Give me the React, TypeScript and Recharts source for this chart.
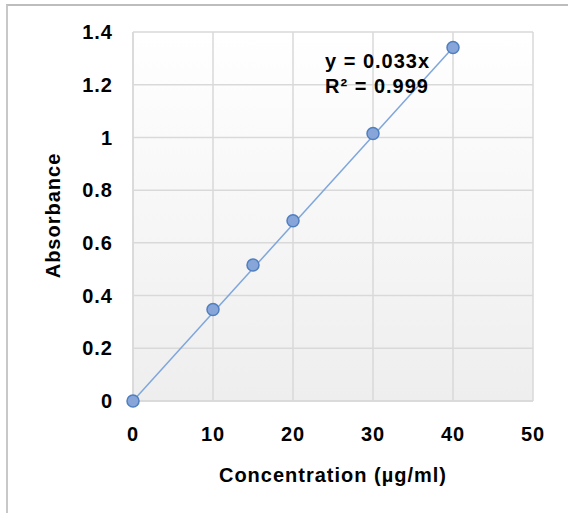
import { CartesianGrid, ReferenceDot, Scatter, ScatterChart, XAxis, YAxis } from 'recharts';

// values
const concentration = [0, 10, 15, 20, 30, 40];
const absorbance = [0, 0.347, 0.516, 0.684, 1.015, 1.341];
const trendX = [0, 40];
const trendY = [0, 1.341];
const xTicks = [0, 10, 20, 30, 40, 50];
const yTicks = [0, 0.2, 0.4, 0.6, 0.8, 1, 1.2, 1.4];
const equationLines = ['y = 0.033x', 'R² = 0.999'];
const equationAnchor = { x: 24, y: 1.3 };

const FONT = '"Liberation Sans", Arial, sans-serif';
const FS = 20;
const LS = 1;

const points = concentration.map((x, i) => ({ x, y: absorbance[i] }));
const trend = trendX.map((x, i) => ({ x, y: trendY[i] }));

function Dot(props: any) {
  const { cx, cy } = props;
  return <circle cx={cx} cy={cy} r={6} fill="#87a5d8" stroke="#4f7fc0" strokeWidth={1.5} />;
}

function Equation(props: any) {
  const { x, y } = props.viewBox;
  return (
    <text x={x} y={y} fontFamily={FONT} fontSize={FS} fontWeight="bold" letterSpacing={LS} fill="#000">
      {equationLines.map((line, i) => (
        <tspan key={line} x={x} dy={i === 0 ? 10 : 24.5}>
          {line}
        </tspan>
      ))}
    </text>
  );
}

function XLabel(props: any) {
  const { x, y, width } = props.viewBox;
  return (
    <text x={x + width / 2} y={y + 81} textAnchor="middle" fontFamily={FONT} fontSize={FS} fontWeight="bold" letterSpacing={LS} fill="#000">
      Concentration (µg/ml)
    </text>
  );
}

function YLabel(props: any) {
  const { x, y, height } = props.viewBox;
  const cx = x + 60;
  const cy = y + height / 2 - 1;
  return (
    <text x={cx} y={cy} transform={`rotate(-90 ${cx} ${cy})`} textAnchor="middle" fontFamily={FONT} fontSize={FS} fontWeight="bold" letterSpacing={LS} fill="#000">
      Absorbance
    </text>
  );
}

export default function App() {
  const tick = { fontFamily: FONT, fontSize: FS, fontWeight: 'bold', fill: '#000', letterSpacing: LS };
  return (
    <div style={{ position: 'absolute', left: 0, top: 0, width: 568, height: 513, background: '#fff', overflow: 'hidden' }}>
      <div
        style={{
          position: 'absolute',
          left: 6,
          top: 4,
          width: 600,
          height: 600,
          borderLeft: '2px solid #c8c8c8',
          borderTop: '2px solid #bdbdbd',
        }}
      />
      <div style={{ position: 'absolute', left: 0, top: 0 }}>
        <ScatterChart width={568} height={513} margin={{ top: 32, right: 35, bottom: 0, left: 0 }}>
          <defs>
            <linearGradient id="plotBg" x1="0" y1="0" x2="0" y2="1">
              <stop offset="0%" stopColor="#ffffff" />
              <stop offset="100%" stopColor="#eeeeee" />
            </linearGradient>
          </defs>
          <CartesianGrid stroke="#d9d9d9" strokeWidth={1.5} fill="url(#plotBg)" fillOpacity={1} />
          <XAxis
            type="number"
            dataKey="x"
            domain={[0, 50]}
            ticks={xTicks}
            height={112}
            tickLine={false}
            tickSize={0}
            tickMargin={26}
            axisLine={{ stroke: '#d9d9d9', strokeWidth: 1.5 }}
            tick={tick}
            label={{ content: XLabel }}
          />
          <YAxis
            type="number"
            dataKey="y"
            domain={[0, 1.4]}
            ticks={yTicks}
            width={133}
            tickLine={false}
            tickSize={0}
            tickMargin={20}
            axisLine={{ stroke: '#d9d9d9', strokeWidth: 1.5 }}
            tick={tick}
            label={{ content: YLabel }}
          />
          <Scatter
            data={trend}
            line={{ stroke: '#7fa6dc', strokeWidth: 1.5 }}
            shape={() => <g />}
            isAnimationActive={false}
          />
          <Scatter data={points} shape={Dot} isAnimationActive={false} />
          <ReferenceDot
            x={equationAnchor.x}
            y={equationAnchor.y}
            r={0}
            fill="none"
            stroke="none"
            ifOverflow="visible"
            label={{ content: Equation }}
          />
        </ScatterChart>
      </div>
    </div>
  );
}
